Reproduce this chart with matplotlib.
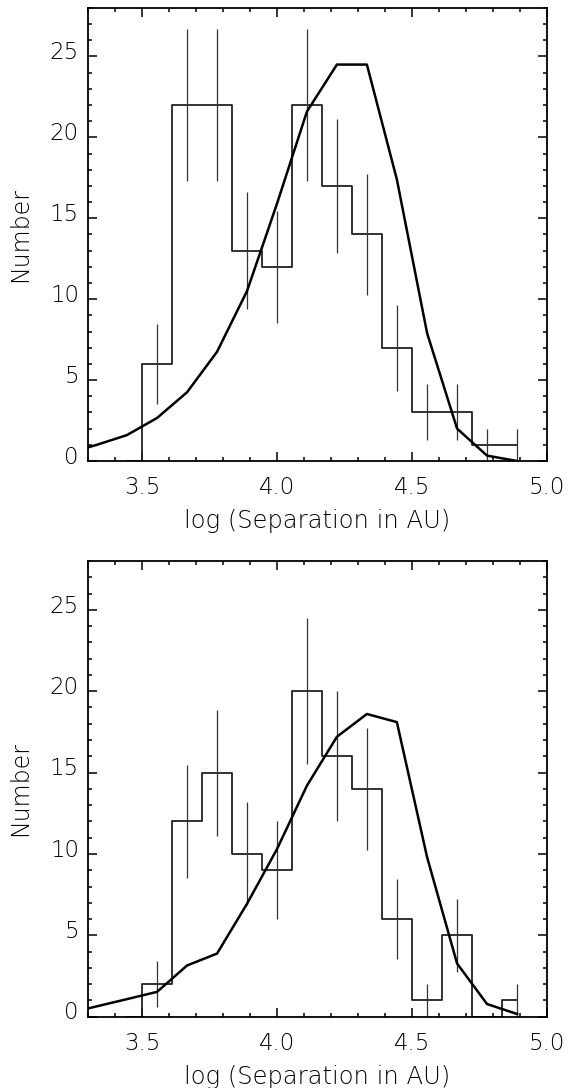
import matplotlib
matplotlib.use('Agg')
import matplotlib.pyplot as plt
import matplotlib.transforms as mtransforms
from matplotlib.ticker import MultipleLocator
import numpy as np

# histogram bin centres (log AU) and counts
bin_centres = [3.444, 3.556, 3.667, 3.778, 3.889, 4.000, 4.111,
               4.222, 4.333, 4.444, 4.556, 4.667, 4.778, 4.889]
counts_top = [0, 6, 22, 22, 13, 12, 22, 17, 14, 7, 3, 3, 1, 1]
counts_bottom = [0, 2, 12, 15, 10, 9, 20, 16, 14, 6, 1, 5, 0, 1]

# model curves
model_x = [3.222, 3.333, 3.444, 3.556, 3.667, 3.778, 3.889, 4.000,
           4.111, 4.222, 4.333, 4.444, 4.556, 4.667, 4.778, 4.889]
model_top = [0.47, 1.0, 1.6, 2.66, 4.25, 6.75, 10.5, 15.9,
             21.6, 24.5, 24.5, 17.4, 7.9, 2.0, 0.33, 0.0]
model_bottom = [0.2, 0.64, 1.08, 1.53, 3.15, 3.88, 6.94, 10.3,
                14.2, 17.2, 18.6, 18.1, 9.8, 3.27, 0.78, 0.17]

xticks = [3.5, 4.0, 4.5, 5.0]
yticks = [0, 5, 10, 15, 20, 25]

plt.rcParams['font.family'] = ['DejaVu Sans']
plt.rcParams['font.weight'] = 'light'
plt.rcParams['axes.labelweight'] = 'light'
FS = 16.5

fig = plt.figure(figsize=(5.68, 10.88), dpi=100)
ax_top = fig.add_axes([0.1549, 0.5763, 0.8081, 0.4164])
ax_bot = fig.add_axes([0.1549, 0.0655, 0.8081, 0.4189])


def draw_panel(ax, counts, model):
    ax.step(bin_centres, counts, where='mid', color='#222222', lw=1.3)
    c = np.array(counts, dtype=float)
    ax.errorbar(bin_centres, c, yerr=np.sqrt(c), fmt='none',
                ecolor='#333333', elinewidth=0.9, capsize=0)
    ax.plot(model_x, model, color='black', lw=1.8)

    ax.set_xlim(3.3, 5.0)
    ax.set_ylim(0, 28)
    ax.set_xticks(xticks)
    ax.set_xticklabels(['%.1f' % t for t in xticks])
    ax.set_yticks(yticks)
    ax.set_yticklabels([str(t) for t in yticks])
    ax.xaxis.set_minor_locator(MultipleLocator(0.1))
    ax.yaxis.set_minor_locator(MultipleLocator(1))
    ax.tick_params(which='both', direction='in', top=True, right=True,
                   width=1.1, labelsize=FS, labelcolor='black')
    ax.tick_params(which='major', length=6.5)
    ax.tick_params(which='minor', length=3)
    ax.tick_params(axis='x', which='major', pad=11)
    ax.tick_params(axis='y', which='major', pad=6.5)
    for s in ax.spines.values():
        s.set_linewidth(1.3)

    ax.set_xlabel('log (Separation in AU)', fontsize=17.5)
    ax.set_ylabel('Number', fontsize=17)
    ax.xaxis.set_label_coords(0.5, -0.105)
    ax.yaxis.set_label_coords(-0.122, 0.5)

    # IDL puts y labels a little above their ticks
    shift = mtransforms.ScaledTranslation(0, 4.5 / 72, fig.dpi_scale_trans)
    for lab in ax.get_yticklabels():
        lab.set_transform(lab.get_transform() + shift)


draw_panel(ax_top, counts_top, model_top)
draw_panel(ax_bot, counts_bottom, model_bottom)

fig.savefig('out.png', dpi=100)
